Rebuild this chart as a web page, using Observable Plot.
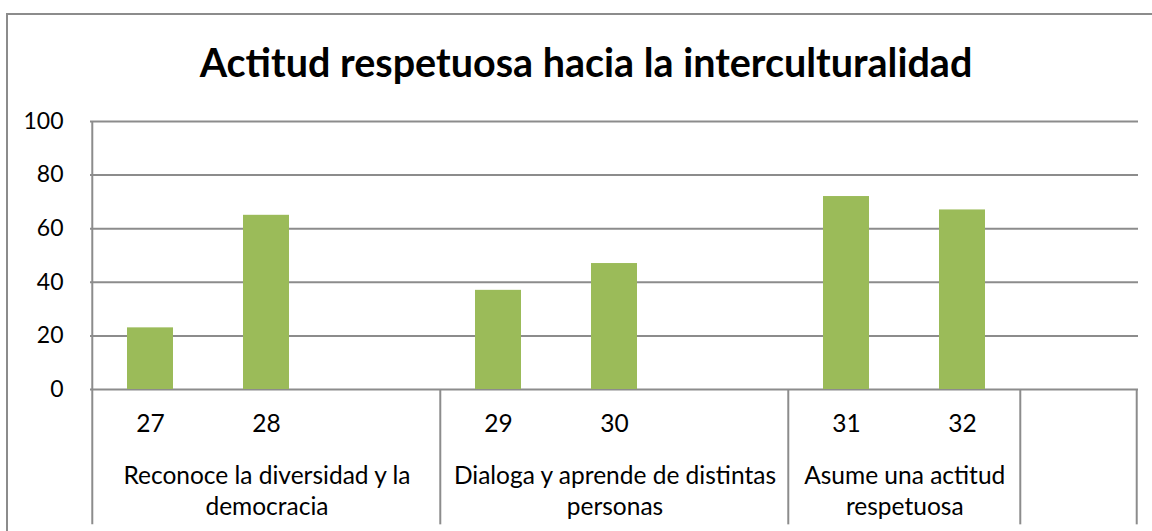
<!DOCTYPE html>
<html>
<head>
<meta charset="utf-8">
<script src="https://cdn.jsdelivr.net/npm/d3@7"></script>
<script src="https://cdn.jsdelivr.net/npm/@observablehq/plot@0.6"></script>
<style>
  html, body { margin: 0; padding: 0; background: #fff; width: 1152px; height: 531px; overflow: hidden; }
  #frame { position: absolute; left: 6px; top: 13px; width: 1160px; height: 600px;
           border-left: 2px solid #8c8c8c; border-top: 2px solid #8c8c8c; }
  #title { position: absolute; left: 0; top: 36px; width: 1172px; text-align: center;
           font-family: Lato, "Open Sans", sans-serif; font-weight: bold; font-size: 39.5px;
           line-height: 52px; color: #000; }
  #chart { position: absolute; left: 0; top: 100px; }
</style>
</head>
<body>
<div id="frame"></div>
<div id="title">Actitud respetuosa hacia la interculturalidad</div>
<div id="chart"></div>
<script>
// ---- data ----
const categories = ["27", "28", "", "29", "30", " ", "31", "32", "  "];
const values = [23, 65, null, 37, 47, null, 72, 67, null];
const tickLabels = ["27", "28", "", "29", "30", "", "31", "32", ""];
const groupLabels = ["Reconoce la diversidad y la\ndemocracia", "Dialoga y aprende de distintas\npersonas", "Asume una actitud\nrespetuosa", ""];
const groupFirst = ["27", "29", "31", "  "];
const groupSize = [3, 3, 2, 1];
const yTicks = [0, 20, 40, 60, 80, 100];

// ---- layout ----
const W = 1152, H = 431;
const mL = 90, mR = 14, mT = 21, mB = 142;
const step = (W - mL - mR) / categories.length;
const gray = "#8c8c8c";
const font = "Lato, 'Open Sans', sans-serif";
const yBottom = -50.5; // extent of separator lines below the axis

const bars = categories.map((c, i) => ({cat: c, value: values[i]})).filter(d => d.value != null);
const ticks = categories.map((c, i) => ({cat: c, label: tickLabels[i]}));
const seps = groupFirst.map(c => ({cat: c}));

const marks = [
  Plot.ruleY(yTicks, {y: d => d, stroke: gray, strokeWidth: 2}),
  Plot.barY(bars, {x: "cat", y: "value", fill: "#9BBB59"}),
  Plot.ruleX([categories[0]], {x: d => d, y1: 100, y2: yBottom, dx: -step / 2, stroke: gray, strokeWidth: 2}),
  Plot.ruleX(seps.slice(1), {x: "cat", y1: 0, y2: yBottom, dx: -step / 2, stroke: gray, strokeWidth: 2}),
  Plot.ruleX([categories[categories.length - 1]], {x: d => d, y1: 0, y2: yBottom, dx: step / 2, stroke: gray, strokeWidth: 2}),
  Plot.text(ticks, {x: "cat", text: "label", frameAnchor: "bottom", dy: 42, fontSize: 24.5, fill: "#000"}),
];
groupLabels.forEach((g, i) => {
  marks.push(Plot.text([g], {
    x: () => groupFirst[i], text: d => d, frameAnchor: "bottom",
    dx: (groupSize[i] - 1) * step / 2, dy: 100, fontSize: 24.5, lineHeight: 1.27,
    lineAnchor: "middle", fill: "#000"
  }));
});

const chart = Plot.plot({
  width: W, height: H,
  marginLeft: mL, marginRight: mR, marginTop: mT, marginBottom: mB,
  style: {fontFamily: font, fontSize: "23px", color: "#000", background: "transparent", overflow: "visible"},
  x: {type: "band", domain: categories, paddingInner: 0.6, paddingOuter: 0.3, axis: null},
  y: {domain: [0, 100], ticks: yTicks, tickSize: 0, tickPadding: 27, label: null, tickFormat: d => String(d)},
  marks
});
document.getElementById("chart").appendChild(chart);
</script>
</body>
</html>
